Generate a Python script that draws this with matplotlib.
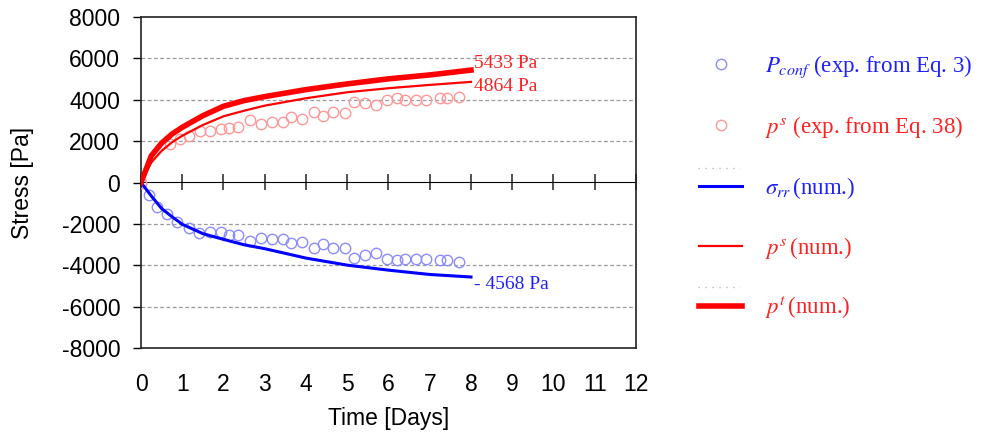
import numpy as np
import matplotlib
matplotlib.use('Agg')
import matplotlib.pyplot as plt
from matplotlib.lines import Line2D

# numerical curves
t_num = [0, 0.25, 0.5, 0.75, 1, 1.5, 2, 2.5, 3, 4, 5, 6, 7, 8]
pt_num = [0, 1290, 1905, 2340, 2667, 3230, 3685, 3960, 4152, 4491, 4767, 5010, 5200, 5433]
ps_num = [0, 970, 1532, 1940, 2260, 2780, 3200, 3470, 3715, 4073, 4363, 4557, 4718, 4864]
srr_num = [0, -650, -1260, -1650, -2020, -2473, -2750, -3010, -3200, -3654, -3995, -4237, -4446, -4568]

# experimental points
t_ps = [0, 0.71, 0.94, 1.16, 1.42, 1.67, 1.93, 2.14, 2.34, 2.65, 2.91, 3.17, 3.44, 3.64, 3.91,
        4.19, 4.41, 4.66, 4.94, 5.17, 5.43, 5.70, 5.96, 6.20, 6.40, 6.67, 6.92, 7.26, 7.42, 7.72]
ps_exp = [0, 1857, 2100, 2260, 2473, 2503, 2584, 2633, 2665, 3035, 2827, 2940, 2940, 3150, 3070,
          3394, 3200, 3394, 3360, 3878, 3830, 3748, 4006, 4087, 3990, 4006, 4006, 4087, 4087, 4152]

t_pc = [0, 0.19, 0.39, 0.63, 0.88, 1.16, 1.41, 1.67, 1.93, 2.14, 2.36, 2.65, 2.91, 3.17, 3.44,
        3.64, 3.91, 4.19, 4.41, 4.66, 4.94, 5.17, 5.43, 5.70, 5.96, 6.20, 6.40, 6.67, 6.92,
        7.26, 7.42, 7.72]
pc_exp = [0, -601, -1164, -1503, -1910, -2182, -2424, -2376, -2376, -2521, -2521, -2830, -2667,
          -2750, -2750, -2943, -2880, -3151, -2992, -3151, -3151, -3670, -3510, -3428, -3719,
          -3752, -3685, -3685, -3685, -3767, -3767, -3832]

plt.rcParams['mathtext.fontset'] = 'stix'
plt.rcParams['axes.unicode_minus'] = False
sans = 'Liberation Sans'
serif = 'Liberation Serif'

fig = plt.figure(figsize=(9.85, 4.32), dpi=100)
ax = fig.add_axes([141/985, 1 - 348/432, 495/985, 331/432])

ax.plot(t_pc, pc_exp, 'o', ms=7.5, mfc='none', mec=(0.55, 0.55, 1.0), mew=1.0,
        label=r'$P_{conf}$ (exp. from Eq. 3)', zorder=3)
ax.plot(t_ps, ps_exp, 'o', ms=7.5, mfc='none', mec=(1.0, 0.6, 0.6), mew=1.0,
        label=r'$p^s$ (exp. from Eq. 38)', zorder=3)
ax.plot(t_num, srr_num, color='#0000ff', lw=2.2, label=r'$\sigma_{rr}\,$(num.)', zorder=4)
ax.plot(t_num, ps_num, color='#ff0000', lw=1.6, label=r'$p^s\,$(num.)', zorder=4)
ax.plot(t_num, pt_num, color='#ff0000', lw=4, label=r'$p^t\,$(num.)', zorder=5)

ax.annotate(f'{pt_num[-1]} Pa', xy=(t_num[-1], pt_num[-1]), xytext=(2, 4.5),
            textcoords='offset points', color='#ff2020', fontsize=14, family=serif,
            va='center', ha='left')
ax.annotate(f'{ps_num[-1]} Pa', xy=(t_num[-1], ps_num[-1]), xytext=(2, -3),
            textcoords='offset points', color='#ff2020', fontsize=14, family=serif,
            va='center', ha='left')
ax.annotate(f'- {abs(srr_num[-1])} Pa', xy=(t_num[-1], srr_num[-1]), xytext=(2, -5.5),
            textcoords='offset points', color='#2020ff', fontsize=14, family=serif,
            va='center', ha='left')

ax.set_xlim(0, 12)
ax.set_ylim(-8000, 8000)
ax.set_xticks(range(0, 13))
ax.set_yticks(range(-8000, 8001, 2000))
for y in [-6000, -4000, -2000, 2000, 4000, 6000]:
    ax.axhline(y, color='#999999', lw=0.9, ls=(0, (3, 2)), zorder=1)

for s in ax.spines.values():
    s.set_color('#222222')
    s.set_linewidth(1.2)
ax.tick_params(axis='x', length=0, pad=18, labelsize=16.5)
ax.tick_params(axis='y', length=6, width=1, direction='out', pad=9, labelsize=16.5)
for lab in ax.get_xticklabels() + ax.get_yticklabels():
    lab.set_family(sans)

# zero axis with cross ticks
zax = ax.secondary_xaxis(0.5)
zax.set_xticks(range(0, 13))
zax.tick_params(direction='inout', length=11, width=1.1, labelbottom=False, labeltop=False,
                color='#222222')
zax.spines['bottom'].set_linewidth(1.2)
zax.spines['bottom'].set_color('#222222')
zax.set_xticklabels([])

ax.set_xlabel('Time [Days]', family=sans, fontsize=16.5, labelpad=8)
ax.set_ylabel('Stress [Pa]', family=sans, fontsize=16.5, labelpad=20)

leg = ax.legend(loc='upper left', bbox_to_anchor=(688/985, 1 - 42/432),
                bbox_transform=fig.transFigure, frameon=False,
                prop={'family': serif, 'size': 16.5}, handlelength=1.85,
                handletextpad=1.0, labelspacing=1.5, borderpad=0)
for txt, c in zip(leg.get_texts(), ['#2020ff', '#ff2020', '#2020ff', '#ff2020', '#ff2020']):
    txt.set_color(c)

# faint dotted leftovers above two legend keys
for yy in [168, 287]:
    fig.add_artist(Line2D([698/985, 740/985], [1 - yy/432, 1 - yy/432], color='#bbbbbb',
                          lw=1, ls=(0, (1, 4))))

fig.savefig('out.png', dpi=100)
plt.close()
